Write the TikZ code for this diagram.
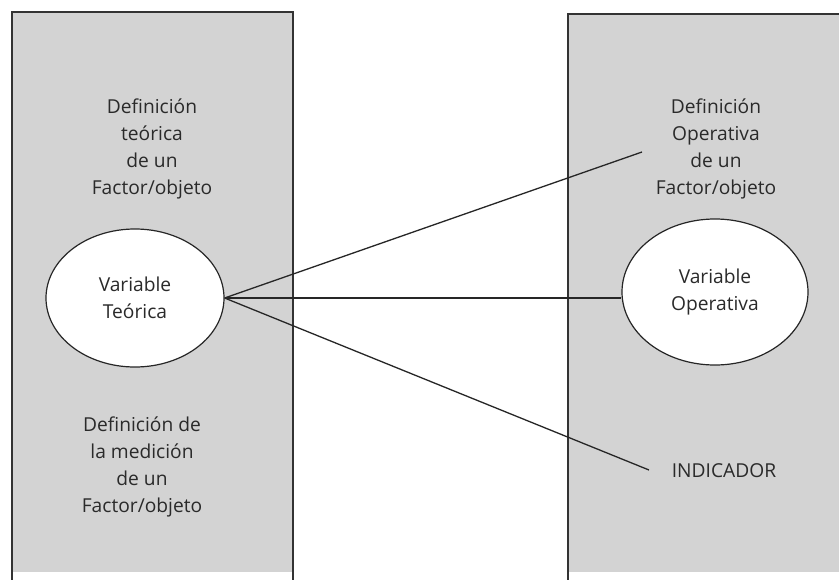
\documentclass[tikz,border=0pt]{standalone}
\usepackage{fontspec}
\setmainfont{Open Sans}
\usetikzlibrary{shapes.geometric}
\definecolor{panel}{HTML}{D3D3D3}
\definecolor{txt}{HTML}{2A2A2A}
\begin{document}
\begin{tikzpicture}[x=1pt,y=-1pt,
  label/.style={text=txt,align=center,font=\fontsize{19.2}{26.8}\selectfont,inner sep=0pt},
  oval/.style={ellipse,draw=black!85,fill=white,line width=1.2pt,inner sep=0pt,text=txt,align=center,font=\fontsize{19.2}{26.5}\selectfont},
  link/.style={draw=black!85,line width=1.3pt}]
\useasboundingbox (0,0) rectangle (839,579);
\fill[white] (0,0) rectangle (839,579);
% panels
\fill[panel] (12,12) rectangle (293,572);
\draw[black!80,line width=1.5pt] (12,590) -- (12,12) -- (293,12) -- (293,590);
\fill[panel] (568,14) rectangle (845,572);
\draw[black!80,line width=1.5pt] (568,590) -- (568,14) -- (845,14);
% texts
\node[label] (dt) at (152,149) {Definición\\teórica\\de un\\Factor/objeto};
\node[label] (dm) at (142,467) {Definición de\\la medición\\de un\\Factor/objeto};
\node[label] (do) at (716,149) {Definición\\Operativa\\de un\\Factor/objeto};
\node[label] (ind) at (724,471) {INDICADOR};
% ellipses
\node[oval,minimum width=178pt,minimum height=138pt] (lv) at (135,298) {Variable\\Teórica};
\node[oval,minimum width=186pt,minimum height=146pt] (rv) at (715,292) {Variable\\Operativa};
% connector ends
\coordinate (e1) at (642,152);
\coordinate (e3) at (649,470);
\draw[link] (lv.east) -- (e1);
\draw[link] (lv.east) -- (lv.east -| rv.west);
\draw[link] (lv.east) -- (e3);
\end{tikzpicture}
\end{document}
